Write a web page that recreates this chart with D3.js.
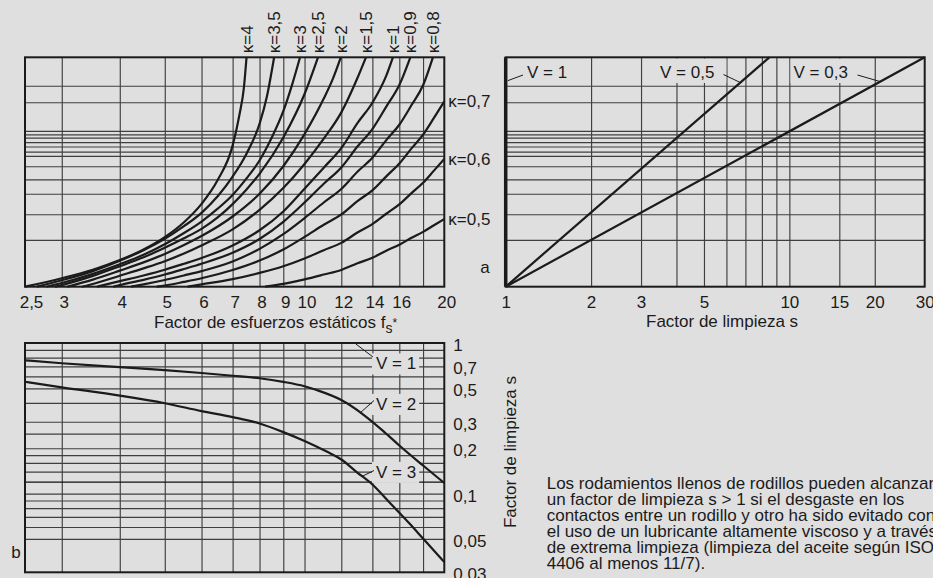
<!DOCTYPE html>
<html><head><meta charset="utf-8">
<script src="https://cdn.jsdelivr.net/npm/d3@7"></script>
<style>
html,body{margin:0;padding:0;background:#dfdfdf;}
svg{display:block;font-family:"Liberation Sans",Arial,Helvetica,sans-serif;}
</style></head><body>
<svg id="c" width="933" height="578"></svg>
<script>
// ---------- DATA ----------
// top-left nomogram: static stress factor fs* (log axis) vs. intermediate scale "a" (0..100, unlabeled)
const fsTicks = [2.5, 3, 4, 5, 6, 7, 8, 9, 10, 12, 14, 16, 20];
const fsGrid = [3, 4, 5, 6, 7, 8, 9, 10, 12, 14, 16, 18];
const aGrid = [20.4, 31.6, 40.5, 46.8, 52.5, 57.0, 58.9, 61.1, 63.0, 65.0, 66.4, 67.9, 80.4, 87.6];
const kappaNames = ["4", "3,5", "3", "2,5", "2", "1,5", "1", "0,9", "0,8", "0,7", "0,6", "0,5"];
const kappa4  = [[2.5,0],[3,3.7],[3.5,7.4],[4,11.6],[4.5,16.2],[5,21.6],[5.5,28.1],[6,36.1],[6.5,46.5],[7,61.5],[7.25,75.5],[7.4,86.5],[7.5,100]];
const kappa35 = [[2.65,0],[3,2.8],[3.5,6.8],[4,11.3],[4.5,15.9],[5,20.9],[5.5,26.4],[6,32.2],[6.5,39.4],[7,48],[7.5,58],[8,71],[8.3,83],[8.6,100]];
const kappa3  = [[2.78,0],[3,1.6],[3.5,5.6],[4,9.8],[4.5,13.9],[5,18.5],[5.5,23.4],[6,28.4],[6.5,34],[7,40],[7.5,47.2],[8,55],[8.5,65],[9,76.5],[9.4,88],[9.78,100]];
const kappa25 = [[2.9,0],[3,0.7],[3.5,4.7],[4,8.9],[4.5,12.8],[5,17],[5.5,21.1],[6,25.2],[6.5,30.2],[7,36],[7.5,42.4],[8,49.2],[9,65],[10,84],[10.69,100]];
const kappa2  = [[3.08,0],[3.5,3.1],[4,7],[4.5,10.6],[5,14.3],[5.5,18.2],[6,22.1],[7,30.6],[8,40.5],[9,52.5],[10,66.5],[11,82],[11.5,90.5],[11.97,100]];
const kappa15 = [[3.31,0],[3.5,1.2],[4,4.8],[4.5,8],[5,11.1],[5.5,14.5],[6,18],[7,25],[8,33.5],[9,43],[10,53.5],[11,64.5],[12,76],[13,91],[13.56,100]];
const kappa1  = [[3.57,0],[4,2.4],[4.5,4.9],[5,7.4],[5.5,10],[6,12.5],[7,18],[8,24.6],[9,32.8],[10,42.7],[11,51.9],[12,60.4],[13,71.3],[14,80.2],[15,92],[15.5,100]];
const kappa09 = [[3.87,0],[4,0.7],[4.5,3],[5,5.3],[5.5,7.7],[6,10],[7,14.8],[8,20.8],[9,28.3],[10,36.7],[11,44.9],[12,52],[13,61.1],[14,68.7],[15,78.5],[16,87.9],[16.9,100]];
const kappa08 = [[4.23,0],[4.5,1],[5,2.9],[5.5,4.9],[6,6.8],[7,11],[8,16.5],[9,22.9],[10,29.9],[11,36.7],[12,42.6],[13,50.1],[14,56.2],[15,63.9],[16,70.6],[17,79.2],[18,87.8],[18.9,100]];
const kappa07 = [[4.8,0],[5,0.5],[5.5,2.1],[6,3.7],[7,7.3],[8,11.4],[9,16.2],[10,21.7],[11,27],[12,31.5],[13,37.3],[14,42],[15,48.1],[16,53.7],[17,60.3],[18,66.3],[19,73.6],[20,80.8]];
const kappa06 = [[5.6,0],[6,1],[7,3.3],[8,6],[9,8.9],[10,12.3],[11,15.9],[12,19.1],[13,23.6],[14,27.3],[15,31.8],[16,35.9],[17,40.8],[18,45.3],[19,50.6],[20,55.7]];
const kappa05 = [[8.22,0],[9,1.2],[10,3.2],[11,5.3],[12,7.3],[13,10.2],[14,12.6],[15,15.7],[16,18.3],[17,21.3],[18,23.9],[19,26.8],[20,29.5]];
const kappaCurves = [kappa4, kappa35, kappa3, kappa25, kappa2, kappa15, kappa1, kappa09, kappa08, kappa07, kappa06, kappa05];

// top-right: cleanliness factor s (log axis) vs. "a"
const sTicks = [1, 2, 3, 5, 10, 15, 20, 30];
const sGrid = [2, 3, 4, 5, 6, 7, 8, 9, 10, 15, 20];
const vLine1  = [[1,0],[1,100]];
const vLine05 = [[1,0],[8.5,100]];
const vLine03 = [[1,0],[30,100]];

// bottom: fs* vs cleanliness factor s (log)
const sBotTicks = [1, 0.7, 0.5, 0.3, 0.2, 0.1, 0.05, 0.03];
const sBotGrid = [0.9,0.8,0.7,0.6,0.5,0.4,0.3,0.25,0.2,0.18,0.16,0.14,0.12,0.1,0.09,0.08,0.07,0.06,0.05];
const vCurve2 = [[2.5,0.767],[3,0.734],[4,0.691],[5,0.660],[6,0.632],[7,0.606],[8,0.583],[9,0.552],[10,0.516],[10.62,0.487],[12,0.418],[13.38,0.335],[14.78,0.260],[16,0.2085],[18,0.1536],[20,0.1175]];
const vCurve3 = [[2.5,0.553],[3,0.508],[4,0.447],[5,0.398],[6,0.353],[7,0.322],[8,0.292],[9,0.256],[10,0.2234],[11.16,0.190],[12,0.1684],[12.95,0.139],[14,0.1149],[15.28,0.0866],[16.87,0.0628],[18,0.0503],[20,0.0351]];

const note = ["Los rodamientos llenos de rodillos pueden alcanzar",
  "un factor de limpieza s > 1 si el desgaste en los",
  "contactos entre un rodillo y otro ha sido evitado con",
  "el uso de un lubricante altamente viscoso y a través",
  "de extrema limpieza (limpieza del aceite según ISO",
  "4406 al menos 11/7)."];

// ---------- LAYOUT ----------
const FONT = 17, INK = "#1b1b1b", GRID = "#3f3f3f";
const L = {x0: 25, x1: 444.3, top: 57.3, bot: 286.7};
const R = {x0: 505.7, x1: 924.7};
const B = {top: 343, bot: 572.3};

const xF = d3.scaleLog().domain([2.5, 20]).range([L.x0, L.x1]);
const yA = d3.scaleLinear().domain([0, 100]).range([L.bot, L.top]);
const xS = d3.scaleLog().domain([1, 30]).range([R.x0, R.x1]);
const yS = d3.scaleLog().domain([0.03, 1]).range([B.bot, B.top]);

const svg = d3.select("#c");
svg.append("rect").attr("width", 933).attr("height", 578).attr("fill", "#dfdfdf");
const gGrid = svg.append("g"), gBg = svg.append("g"), gCurve = svg.append("g"),
      gFrame = svg.append("g"), gLab = svg.append("g");
const fmt = d => String(d).replace(".", ",");

function gridX(scale, vals, y0, y1) {
  const g = gGrid.append("g").attr("transform", `translate(0,${y0})`)
    .call(d3.axisBottom(scale).tickValues(vals).tickSize(-(y0 - y1)).tickFormat(""));
  g.select(".domain").remove();
  g.selectAll("line").attr("stroke", GRID).attr("stroke-width", 1.15);
  return g;
}
function gridY(scale, vals, x0, x1) {
  const g = gGrid.append("g").attr("transform", `translate(${x0},0)`)
    .call(d3.axisLeft(scale).tickValues(vals).tickSize(-(x1 - x0)).tickFormat(""));
  g.select(".domain").remove();
  g.selectAll("line").attr("stroke", GRID).attr("stroke-width", 1.15);
  return g;
}
function styleText(sel) {
  sel.attr("font-size", FONT).attr("font-family", '"Liberation Sans",Arial,sans-serif').attr("fill", INK);
}
function frame(x0, y0, x1, y1) {
  gFrame.append("rect").attr("x", x0).attr("y", y0).attr("width", x1 - x0).attr("height", y1 - y0)
    .attr("fill", "none").attr("stroke", INK).attr("stroke-width", 2);
}
function bgFor(textSel, padL, padR, padT, padB, topTo) {
  const b = textSel.node().getBBox();
  const y0 = topTo !== undefined ? topTo : b.y - padT;
  gBg.append("rect").attr("x", b.x - padL).attr("y", y0)
    .attr("width", b.width + padL + padR).attr("height", b.y + b.height + padB - y0)
    .attr("fill", "#dfdfdf");
}
function label(x, y, txt, anchor) {
  const t = gLab.append("text").attr("x", x).attr("y", y).attr("dy", "0.35em")
    .attr("text-anchor", anchor || "start").text(txt);
  styleText(t);
  return t;
}
function leader(p0, p1) {
  gLab.append("line").attr("x1", p0[0]).attr("y1", p0[1]).attr("x2", p1[0]).attr("y2", p1[1])
    .attr("stroke", INK).attr("stroke-width", 1);
}

// ---------- TOP-LEFT ----------
gridX(xF, fsGrid, L.bot, L.top);
gridY(yA, aGrid, L.x0, L.x1);
frame(L.x0, L.top, L.x1, L.bot);
const lineK = d3.line().x(d => xF(d[0])).y(d => yA(d[1])).curve(d3.curveMonotoneX);
kappaCurves.forEach(c => {
  gCurve.append("path").attr("d", lineK(c)).attr("fill", "none")
    .attr("stroke", INK).attr("stroke-width", 2.2);
});
kappaCurves.forEach((c, i) => {
  const last = c[c.length - 1];
  if (last[1] >= 100) {
    const x = xF(last[0]), y = L.top - 4;
    const t = gLab.append("text").attr("transform", `translate(${x},${y}) rotate(-90)`)
      .attr("dy", "0.36em").text("κ=" + kappaNames[i]);
    styleText(t);
  } else {
    label(L.x1 + 4, yA(last[1]), "κ=" + kappaNames[i]);
  }
});
{
  const g = gLab.append("g").attr("transform", `translate(0,${L.bot})`)
    .call(d3.axisBottom(xF).tickValues(fsTicks).tickSize(0).tickPadding(9).tickFormat(fmt));
  g.select(".domain").remove();
  styleText(g.selectAll("text"));
  g.selectAll("text").attr("dx", d => d === 2.5 ? 6 : 2);
  const t = gLab.append("text").attr("x", 154).attr("y", 328);
  styleText(t);
  t.append("tspan").text("Factor de esfuerzos estáticos f");
  t.append("tspan").attr("dy", 5).attr("font-size", 14).text("s");
  t.append("tspan").attr("dy", -6).attr("font-size", 12).text("*");
}

// ---------- TOP-RIGHT ----------
gridX(xS, sGrid, L.bot, L.top);
gridY(yA, aGrid, R.x0, R.x1);
frame(R.x0, L.top, R.x1, L.bot);
const lineV = d3.line().x(d => xS(d[0])).y(d => yA(d[1]));
gCurve.append("path").attr("d", lineV(vLine1)).attr("stroke", INK).attr("stroke-width", 3.5).attr("fill", "none");
[vLine05, vLine03].forEach(c => {
  gCurve.append("path").attr("d", lineV(c)).attr("fill", "none").attr("stroke", INK).attr("stroke-width", 2.2);
});
function onLine(c, a) { // point on a straight V line at a given "a"
  const t = (a - c[0][1]) / (c[1][1] - c[0][1]);
  return [xS(c[0][0] * Math.pow(c[1][0] / c[0][0], t)), yA(a)];
}
{
  label(527, 72, "V = 1");
  leader([xS(1) + 2, 80.7], [523, 75]);
  const t5 = label(660, 72, "V = 0,5");
  bgFor(t5, 4, 12, 0, 1, L.top + 1.2);
  leader([723.5, 74.5], onLine(vLine05, 89));
  const t3 = label(793.5, 72, "V = 0,3");
  bgFor(t3, 3, 11, 0, 1, L.top + 1.2);
  leader([857.5, 75], onLine(vLine03, 89.4));
  label(485, 267, "a", "middle");
  const g = gLab.append("g").attr("transform", `translate(0,${L.bot})`)
    .call(d3.axisBottom(xS).tickValues(sTicks).tickSize(0).tickPadding(9).tickFormat(fmt));
  g.select(".domain").remove();
  styleText(g.selectAll("text"));
  const t = gLab.append("text").attr("x", 646).attr("y", 327).text("Factor de limpieza s");
  styleText(t);
}

// ---------- BOTTOM ----------
gridX(xF, fsGrid, B.bot, B.top);
const gy = gridY(yS, sBotGrid, L.x0, L.x1);
gy.selectAll("line").filter(d => d === 0.12).attr("stroke", "#111").attr("stroke-width", 1.4);
frame(L.x0, B.top, L.x1, B.bot);
const lineB = d3.line().x(d => xF(d[0])).y(d => yS(d[1])).curve(d3.curveMonotoneX);
[vCurve2, vCurve3].forEach(c => {
  gCurve.append("path").attr("d", lineB(c)).attr("fill", "none").attr("stroke", INK).attr("stroke-width", 2.2);
});
{
  const b1 = label(376, 363.5, "V = 1"); bgFor(b1, 4, 3, 1, 1);
  leader([xF(12.9), yS(1) + 1], [373, 357]);
  const b2 = label(376, 404, "V = 2"); bgFor(b2, 4, 3, 1, 1);
  leader([xF(13.2), yS(0.345)], [374, 400.5]);
  const b3 = label(376, 472, "V = 3"); bgFor(b3, 4, 3, 1, 1);
  leader([xF(13.3), yS(0.13)], [374, 470.5]);
  const g = gLab.append("g").attr("transform", `translate(${L.x1},0)`)
    .call(d3.axisRight(yS).tickValues(sBotTicks).tickSize(0).tickPadding(9).tickFormat(fmt));
  g.select(".domain").remove();
  styleText(g.selectAll("text"));
  g.selectAll("text").attr("dy", "0.45em");
  const t = gLab.append("text").attr("transform", "translate(510,452) rotate(-90)")
    .attr("text-anchor", "middle").attr("dy", "0.35em").text("Factor de limpieza s");
  styleText(t);
  label(16, 552, "b", "middle");
}

// ---------- NOTE ----------
{
  const t = gLab.append("text").attr("x", 546.7).attr("y", 488.5);
  styleText(t);
  note.forEach((ln, i) => t.append("tspan").attr("x", 546.7).attr("dy", i === 0 ? 0 : 16.1).text(ln));
}
</script>
</body></html>
